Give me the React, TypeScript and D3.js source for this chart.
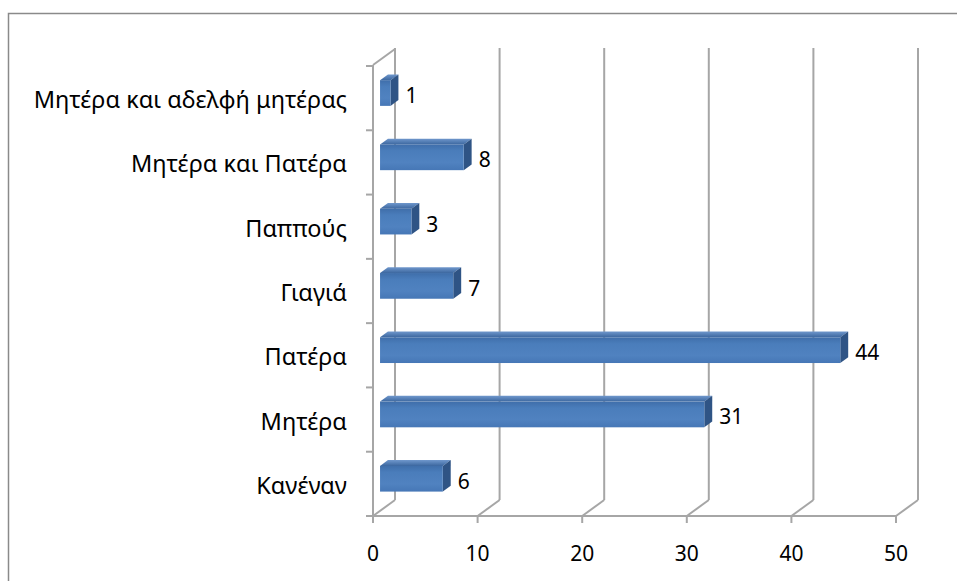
import React from "react";
import * as d3 from "d3";

const categories = ["Κανέναν", "Μητέρα", "Πατέρα", "Γιαγιά", "Παππούς", "Μητέρα και Πατέρα", "Μητέρα και αδελφή μητέρας"];
const values = [6, 31, 44, 7, 3, 8, 1];
const xTicks = [0, 10, 20, 30, 40, 50];

const W = 957, H = 581;
const FONT = "'Noto Sans', sans-serif";
const DX = 22, DY = -16; // full depth offset of back wall
const D0 = 0.32, D1 = 0.68; // bar depth fraction

export default function App() {
  const x = d3.scaleLinear().domain([0, 50]).range([373, 896]);
  const y = d3.scaleBand<string>().domain([...categories].reverse()).range([66, 516]);
  const step = y.step();
  const barH = step * 0.4;
  const grid = "#a6a6a6";
  const bottom = 516;
  const x0 = x(0);

  return (
    <svg width={W} height={H} style={{ position: "absolute", left: 0, top: 0, background: "#fff" }}>
      <defs>
        <linearGradient id="front" x1="0" y1="0" x2="0" y2="1">
          <stop offset="0" stopColor="#3f6eaa" />
          <stop offset="0.25" stopColor="#4a7dbb" />
          <stop offset="0.7" stopColor="#5082c0" />
          <stop offset="1" stopColor="#4677b6" />
        </linearGradient>
        <linearGradient id="top" x1="0" y1="0" x2="0" y2="1">
          <stop offset="0" stopColor="#6f97cc" />
          <stop offset="1" stopColor="#3c679f" />
        </linearGradient>
      </defs>
      <rect x={8.5} y={13.5} width={1000} height={1000} fill="#fff" stroke="#8a8a8a" strokeWidth={1.5} />

      {/* left wall */}
      <line x1={x0} y1={65} x2={x0} y2={bottom} stroke={grid} strokeWidth={2} />
      <line x1={x0} y1={65} x2={x0 + DX} y2={65 + DY} stroke={grid} strokeWidth={2} />

      {/* back gridlines with floor diagonals */}
      {xTicks.map((t) => (
        <g key={t}>
          <line x1={x(t) + DX} y1={48} x2={x(t) + DX} y2={bottom + DY} stroke={grid} strokeWidth={2} />
          <line x1={x(t)} y1={bottom} x2={x(t) + DX} y2={bottom + DY} stroke={grid} strokeWidth={2} />
        </g>
      ))}

      {/* front axis */}
      <line x1={x0} y1={bottom} x2={x(50)} y2={bottom} stroke={grid} strokeWidth={2} />
      {xTicks.map((t) => (
        <g key={"t" + t}>
          <line x1={x(t)} y1={bottom} x2={x(t)} y2={bottom + 7} stroke={grid} strokeWidth={2} />
          <text x={x(t)} y={561} textAnchor="middle" fontFamily={FONT} fontSize={21} fill="#000">{t}</text>
        </g>
      ))}
      {d3.range(categories.length + 1).map((i) => (
        <line key={"c" + i} x1={x0 - 7} x2={x0} y1={66 + i * step} y2={66 + i * step} stroke={grid} strokeWidth={2} />
      ))}
      {categories.map((c) => (
        <text key={"l" + c} x={347} y={(y(c) as number) + step / 2 + 10} textAnchor="end" fontFamily={FONT} fontSize={23.5} fill="#000">{c}</text>
      ))}

      {/* bars */}
      {categories.map((c, i) => {
        const v = values[i];
        const cy = (y(c) as number) + step / 2;
        const fx = x0 + DX * D0, fyOff = DY * D0;
        const bx = DX * (D1 - D0), by = DY * (D1 - D0);
        const left = fx;
        const right = x(v) + DX * D0;
        const top = cy - barH / 2 + fyOff;
        const bot = cy + barH / 2 + fyOff;
        return (
          <g key={"b" + c}>
            <polygon points={`${left},${top} ${left + bx},${top + by} ${right + bx},${top + by} ${right},${top}`} fill="url(#top)" />
            <polygon points={`${right},${top} ${right + bx},${top + by} ${right + bx},${bot + by} ${right},${bot}`} fill="#2f5485" />
            <rect x={left} y={top} width={right - left} height={bot - top} fill="url(#front)" />
            <text x={right + bx + 7} y={cy + fyOff + 10} fontFamily={FONT} fontSize={21} fill="#000">{v}</text>
          </g>
        );
      })}
    </svg>
  );
}
